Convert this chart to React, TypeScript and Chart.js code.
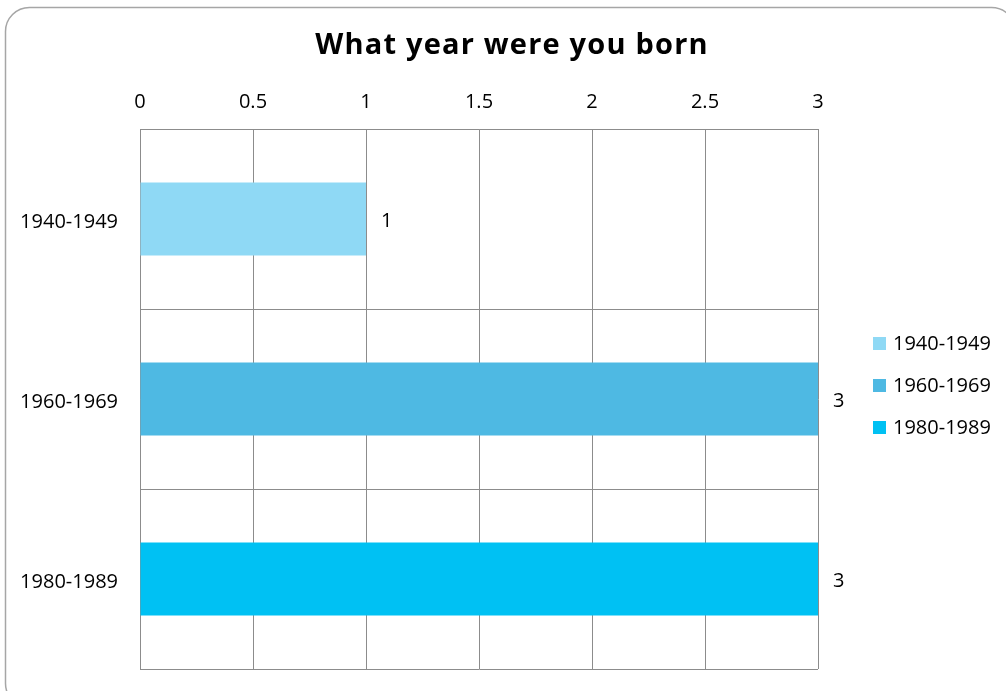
import React, { useEffect, useRef } from "react";
import { Chart, registerables } from "chart.js";

Chart.register(...registerables);

const categories = ["1940-1949", "1960-1969", "1980-1989"];
const values = [1, 3, 3];
const barColors = ["#8FD9F5", "#4EB9E3", "#00C1F3"];
const titleText = "What year were you born";
const xMin = 0;
const xMax = 3;
const xStep = 0.5;

const FONT = "'Open Sans', sans-serif";

const framePlugin = {
  id: "frame",
  beforeDraw(chart: any) {
    const ctx = chart.ctx;
    ctx.save();
    ctx.fillStyle = "#ffffff";
    ctx.fillRect(0, 0, chart.width, chart.height);
    const x = 5.5, y = 7.5, w = 1010, h = 700, r = 24;
    ctx.beginPath();
    ctx.moveTo(x + r, y);
    ctx.lineTo(x + w - r, y);
    ctx.arcTo(x + w, y, x + w, y + r, r);
    ctx.lineTo(x + w, y + h - r);
    ctx.arcTo(x + w, y + h, x + w - r, y + h, r);
    ctx.lineTo(x + r, y + h);
    ctx.arcTo(x, y + h, x, y + h - r, r);
    ctx.lineTo(x, y + r);
    ctx.arcTo(x, y, x + r, y, r);
    ctx.closePath();
    ctx.strokeStyle = "#a6a6a6";
    ctx.lineWidth = 1.5;
    ctx.stroke();
    ctx.restore();
  },
};

const titlePlugin = {
  id: "customTitle",
  afterDraw(chart: any) {
    const ctx = chart.ctx;
    ctx.save();
    ctx.font = `bold 29px ${FONT}`;
    try { (ctx as any).letterSpacing = "1.2px"; } catch (e) {}
    ctx.fillStyle = "#000000";
    ctx.textAlign = "center";
    ctx.textBaseline = "alphabetic";
    ctx.fillText(titleText, 512, 54);
    ctx.restore();
  },
};

const valueLabelPlugin = {
  id: "valueLabels",
  afterDatasetsDraw(chart: any) {
    const ctx = chart.ctx;
    const meta = chart.getDatasetMeta(0);
    ctx.save();
    ctx.font = `20px ${FONT}`;
    ctx.fillStyle = "#000000";
    ctx.textAlign = "left";
    ctx.textBaseline = "middle";
    meta.data.forEach((el: any, i: number) => {
      ctx.fillText(String(values[i]), el.x + 15, el.y + 2);
    });
    ctx.restore();
  },
};

const customLegendPlugin = {
  id: "customLegend",
  afterDraw(chart: any) {
    const ctx = chart.ctx;
    const area = chart.chartArea;
    const bx = area.right + 55;
    const cy = (area.top + area.bottom) / 2 - 14;
    const gap = 42;
    ctx.save();
    ctx.font = `20px ${FONT}`;
    ctx.textAlign = "left";
    ctx.textBaseline = "middle";
    categories.forEach((c, i) => {
      const y = cy + (i - 1) * gap;
      ctx.fillStyle = barColors[i];
      ctx.fillRect(bx, y - 6, 13, 13);
      ctx.fillStyle = "#000000";
      ctx.fillText(c, bx + 20, y + 1);
    });
    ctx.restore();
  },
};

export default function App() {
  const ref = useRef<HTMLCanvasElement | null>(null);
  useEffect(() => {
    if (!ref.current) return;
    const chart = new Chart(ref.current, {
      type: "bar",
      data: {
        labels: categories,
        datasets: [
          {
            label: "Count",
            data: values,
            backgroundColor: barColors,
            borderWidth: 0,
            categoryPercentage: 1,
            barPercentage: 0.405,
          },
        ],
      },
      options: {
        indexAxis: "y",
        animation: false,
        responsive: false,
        layout: { padding: { top: 75, right: 188, bottom: 22, left: 0 } },
        plugins: {
          legend: { display: false },
          tooltip: { enabled: false },
          title: { display: false },
        },
        scales: {
          x: {
            position: "top",
            min: xMin,
            max: xMax,
            ticks: {
              stepSize: xStep,
              color: "#000000",
              font: { family: FONT, size: 20 },
              padding: 15,
              callback: (v: any) => String(Number(v)),
            },
            grid: { color: "#8c8c8c", drawTicks: false, lineWidth: 1 },
            border: { color: "#8c8c8c" },
            afterFit(scale: any) {
              scale.height = 54;
            },
          },
          y: {
            ticks: {
              color: "#000000",
              font: { family: FONT, size: 20 },
              padding: 22,
              labelOffset: 3,
            },
            grid: { color: "#8c8c8c", drawTicks: false, offset: true },
            border: { color: "#8c8c8c" },
            afterFit(scale: any) {
              scale.width = 140;
              scale.paddingTop = 0;
              scale.paddingBottom = 0;
            },
          },
        },
      },
      plugins: [framePlugin, titlePlugin, valueLabelPlugin, customLegendPlugin],
    } as any);
    return () => chart.destroy();
  }, []);
  return (
    <div style={{ position: "fixed", left: 0, top: 0, width: 1006, height: 691 }}>
      <canvas ref={ref} width={1006} height={691} />
    </div>
  );
}
